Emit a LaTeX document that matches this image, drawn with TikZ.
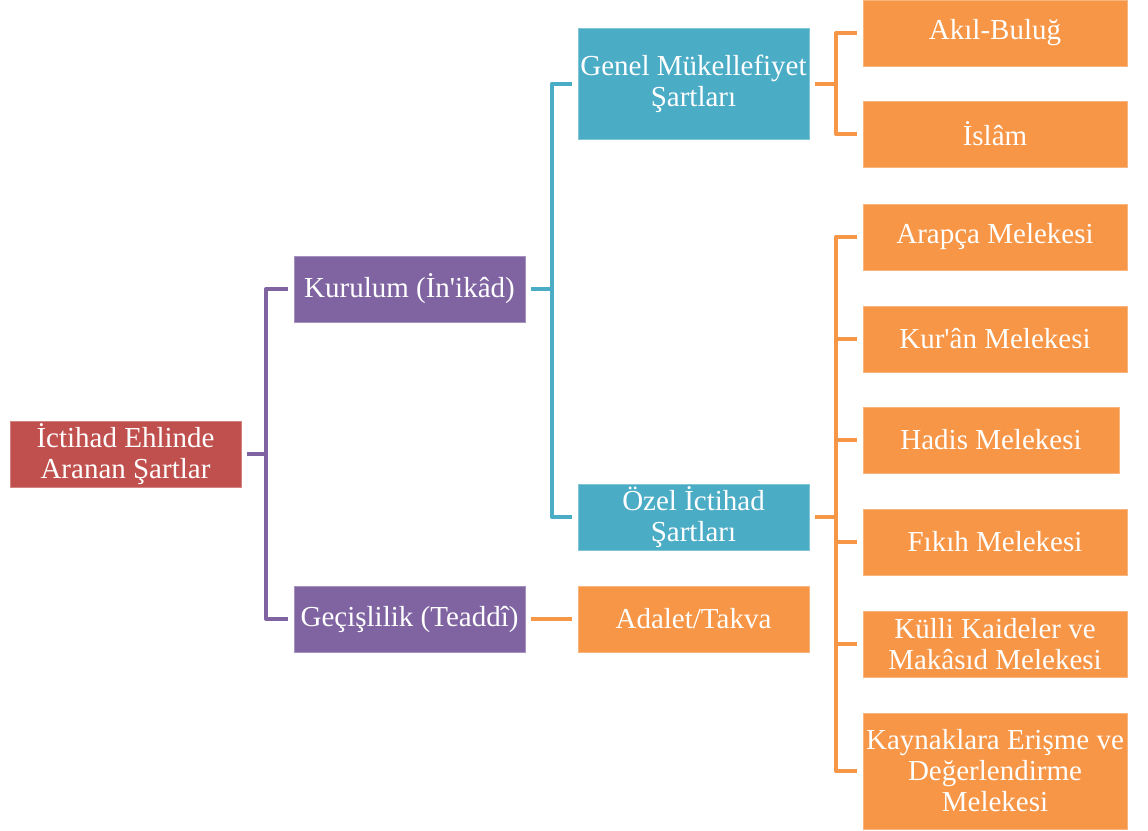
\documentclass[tikz,border=0pt]{standalone}
\usepackage{fontspec}
\setmainfont{Liberation Serif}
\definecolor{rootred}{HTML}{C0504D}
\definecolor{kpurple}{HTML}{8064A2}
\definecolor{kteal}{HTML}{4BACC6}
\definecolor{korange}{HTML}{F79646}
\begin{document}
\begin{tikzpicture}[x=1pt,y=-1pt,
    kbox/.style={draw=#1!70!white,fill=#1,line width=0.8pt,text=white,align=center,
      inner sep=0pt,minimum width=231pt,minimum height=66pt,font=\fontsize{29}{31}\selectfont},
    leaf/.style={kbox=korange,minimum width=264pt},
    kline/.style={#1,line width=4pt,line join=round}]
  \useasboundingbox (0,0) rectangle (1148,830);
  % first levels
  \node[kbox=rootred] (root) at (125.5,454) {İctihad Ehlinde\\Aranan Şartlar};
  \node[kbox=kpurple] (kur) at (409.5,289) {Kurulum (İn\textquotesingle ikâd)};
  \node[kbox=kpurple] (gec) at (409.5,619) {Geçişlilik (Teaddî)};
  \node[kbox=kteal,minimum height=111pt] (genel) at (693.5,83.5) {Genel Mükellefiyet\\Şartları};
  \node[kbox=kteal] (ozel) at (693.5,517) {Özel İctihad\\Şartları};
  \node[kbox=korange] (adalet) at (693.5,619) {Adalet/Takva};
  % leaves (orange)
  \node[leaf] (akil) at (995,33) {Akıl-Buluğ};
  \node[leaf] (islam) at (995,134) {İslâm};
  \node[leaf] (arapca) at (995,237) {Arapça Melekesi};
  \node[leaf] (kuran) at (995,339) {Kur\textquotesingle ân Melekesi};
  \node[leaf,minimum width=256pt] (hadis) at (991,440) {Hadis Melekesi};
  \node[leaf] (fikih) at (995,542) {Fıkıh Melekesi};
  \node[leaf] (kulli) at (995,644) {Külli Kaideler ve\\Makâsıd Melekesi};
  \node[leaf,minimum height=116pt] (kaynak) at (995,771) {Kaynaklara Erişme ve\\Değerlendirme\\Melekesi};
  % spine points
  \coordinate (s1) at (266,454);
  \coordinate (s2) at (552,289);
  \coordinate (s3) at (836,83.5);
  \coordinate (s4) at (836,517);
  % brackets
  \draw[kline=kpurple] ([xshift=6pt]root.east) -- (s1);
  \draw[kline=kpurple] ([xshift=-6pt]kur.west) -| (s1) |- ([xshift=-6pt]gec.west);
  \draw[kline=kteal] ([xshift=6pt]kur.east) -- (s2);
  \draw[kline=kteal] ([xshift=-6pt]genel.west) -| (s2) |- ([xshift=-6pt]ozel.west);
  \draw[kline=korange] ([xshift=6pt]genel.east) -- (s3);
  \draw[kline=korange] ([xshift=-6pt]akil.west) -| (s3) |- ([xshift=-6pt]islam.west);
  \draw[kline=korange] ([xshift=6pt]ozel.east) -- (s4);
  \draw[kline=korange] ([xshift=-6pt]arapca.west) -| (s4) |- ([xshift=-6pt]kaynak.west);
  \foreach \n in {kuran,hadis,fikih,kulli}
    \draw[kline=korange] ([xshift=-6pt]\n.west) -- (s4 |- \n.west);
  \draw[kline=korange] ([xshift=6pt]gec.east) -- ([xshift=-6pt]adalet.west);
\end{tikzpicture}
\end{document}
